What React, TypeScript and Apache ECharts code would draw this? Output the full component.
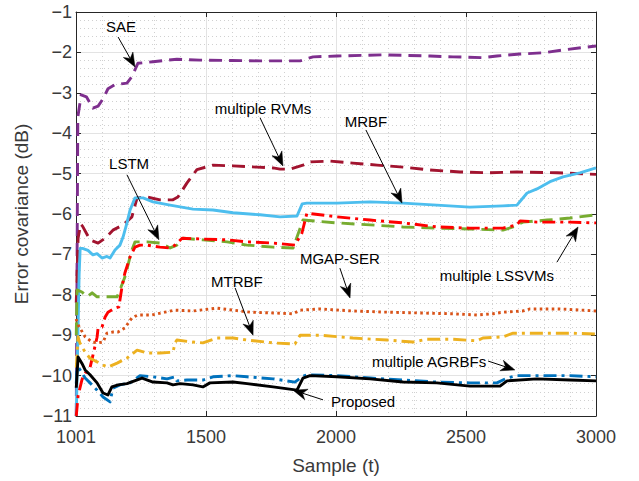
import React, { useEffect, useRef } from 'react';
import * as echarts from 'echarts';

type Pt = [number, number];

const FONT = '"Liberation Sans", Arial, Helvetica, sans-serif';

const xTickValues = [1000, 1500, 2000, 2500, 3000];
const xTickLabels = ['1001', '1500', '2000', '2500', '3000'];

const sae: Pt[] = [[1001,-11],[1007,-3.6],[1020,-3.05],[1040,-3.1],[1065,-3.38],[1085,-3.33],[1104,-3.15],[1123,-2.9],[1150,-2.8],[1196,-2.76],[1215,-2.6],[1238,-2.27],[1296,-2.23],[1388,-2.17],[1477,-2.19],[1600,-2.2],[1708,-2.21],[1862,-2.21],[1912,-2.11],[2004,-2.09],[2181,-2.06],[2362,-2.09],[2450,-2.11],[2565,-2.13],[2619,-2.09],[2708,-2.04],[2796,-2.01],[2873,-1.94],[3000,-1.84]];

const rvms: Pt[] = [[1001,-8.2],[1008,-6.6],[1018,-6.25],[1025,-6.3],[1054,-6.64],[1085,-6.72],[1112,-6.6],[1142,-6.4],[1181,-6.27],[1215,-6.07],[1235,-5.6],[1273,-5.58],[1323,-5.65],[1373,-5.65],[1392,-5.58],[1427,-5.23],[1465,-4.9],[1527,-4.79],[1604,-4.81],[1696,-4.84],[1758,-4.86],[1785,-4.89],[1823,-4.89],[1873,-4.79],[1900,-4.71],[1977,-4.69],[2065,-4.74],[2158,-4.79],[2258,-4.84],[2362,-4.91],[2477,-4.96],[2581,-4.98],[2696,-4.96],[2850,-4.98],[2965,-5.01],[3000,-5.02]];

const mrbf: Pt[] = [[1001,-11],[1012,-7.5],[1016,-6.85],[1025,-6.85],[1046,-6.9],[1065,-7.01],[1081,-6.98],[1100,-7.09],[1119,-7.05],[1131,-7.09],[1150,-6.89],[1169,-6.77],[1181,-6.57],[1196,-6.22],[1208,-5.9],[1227,-5.6],[1258,-5.6],[1296,-5.7],[1362,-5.78],[1450,-5.88],[1527,-5.9],[1604,-5.97],[1708,-6.02],[1785,-6.07],[1850,-6.05],[1870,-5.75],[1888,-5.73],[2004,-5.73],[2131,-5.7],[2258,-5.73],[2388,-5.78],[2515,-5.83],[2642,-5.8],[2696,-5.78],[2735,-5.48],[2773,-5.38],[2823,-5.2],[2873,-5.08],[2938,-4.98],[3000,-4.86]];

const lstm: Pt[] = [[1001,-9.0],[1004,-7.88],[1023,-7.93],[1042,-8.05],[1062,-7.95],[1081,-8.05],[1131,-8.05],[1158,-8.05],[1169,-7.88],[1188,-7.56],[1215,-6.89],[1227,-6.69],[1273,-6.69],[1323,-6.72],[1362,-6.84],[1388,-6.77],[1412,-6.6],[1488,-6.64],[1581,-6.69],[1658,-6.77],[1758,-6.82],[1835,-6.84],[1873,-6.15],[2004,-6.22],[2131,-6.27],[2258,-6.32],[2388,-6.35],[2515,-6.37],[2642,-6.4],[2681,-6.32],[2719,-6.2],[2812,-6.15],[2900,-6.1],[3000,-6.02]];

const lssvms: Pt[] = [[1001,-11],[1008,-10.5],[1023,-10.1],[1035,-9.94],[1054,-9.8],[1065,-9.5],[1081,-9.05],[1085,-8.82],[1100,-8.8],[1112,-8.55],[1123,-8.43],[1150,-8.33],[1165,-8.3],[1169,-8.13],[1177,-7.8],[1188,-7.46],[1208,-7.06],[1227,-6.82],[1246,-6.77],[1273,-6.77],[1323,-6.82],[1362,-6.84],[1381,-6.77],[1408,-6.6],[1488,-6.62],[1581,-6.64],[1658,-6.69],[1758,-6.72],[1842,-6.77],[1869,-6.47],[1888,-5.98],[2004,-6.07],[2131,-6.15],[2258,-6.22],[2388,-6.32],[2515,-6.35],[2642,-6.35],[2696,-6.27],[2708,-6.17],[2773,-6.2],[2900,-6.2],[3000,-6.22]];

const mgapser: Pt[] = [[1001,-8.6],[1004,-8.7],[1015,-8.82],[1035,-9.04],[1062,-9.17],[1085,-9.19],[1104,-9.17],[1119,-8.95],[1142,-8.92],[1162,-8.92],[1188,-8.82],[1215,-8.57],[1238,-8.5],[1292,-8.5],[1342,-8.43],[1381,-8.38],[1450,-8.4],[1542,-8.33],[1604,-8.38],[1669,-8.43],[1758,-8.45],[1835,-8.47],[1862,-8.38],[1938,-8.35],[2065,-8.4],[2196,-8.43],[2323,-8.45],[2450,-8.47],[2542,-8.5],[2604,-8.47],[2642,-8.43],[2719,-8.4],[2746,-8.35],[2862,-8.35],[3000,-8.4]];

const mtrbf: Pt[] = [[1001,-9.8],[1008,-9.04],[1015,-9.19],[1035,-9.42],[1054,-9.57],[1081,-9.66],[1104,-9.74],[1123,-9.79],[1158,-9.69],[1196,-9.57],[1235,-9.37],[1273,-9.44],[1323,-9.44],[1373,-9.42],[1381,-9.19],[1388,-9.12],[1450,-9.17],[1488,-9.19],[1542,-9.07],[1604,-9.07],[1658,-9.12],[1758,-9.19],[1842,-9.22],[1862,-9.0],[1938,-9.0],[2065,-9.07],[2196,-9.12],[2296,-9.17],[2350,-9.1],[2450,-9.1],[2542,-9.14],[2565,-9.07],[2642,-9.04],[2681,-8.95],[2773,-8.95],[2900,-8.95],[3000,-8.97]];

const agrbfs: Pt[] = [[1001,-10.2],[1004,-9.8],[1015,-9.85],[1035,-10.06],[1054,-10.18],[1081,-10.36],[1104,-10.53],[1131,-10.65],[1142,-10.31],[1169,-10.23],[1208,-10.18],[1246,-10.0],[1296,-10.03],[1350,-10.08],[1381,-10.03],[1388,-10.13],[1427,-10.11],[1488,-10.11],[1527,-10.03],[1604,-10.0],[1658,-10.03],[1758,-10.08],[1842,-10.16],[1869,-10.03],[1888,-9.98],[2004,-10.0],[2131,-10.06],[2258,-10.11],[2388,-10.16],[2515,-10.18],[2619,-10.18],[2658,-10.06],[2696,-10.0],[2773,-10.0],[2900,-10.0],[3000,-10.03]];

const proposed: Pt[] = [[1001,-10.3],[1008,-9.54],[1023,-9.7],[1035,-9.86],[1054,-9.98],[1081,-10.18],[1104,-10.43],[1123,-10.48],[1138,-10.28],[1162,-10.23],[1196,-10.2],[1254,-10.06],[1296,-10.16],[1350,-10.18],[1373,-10.23],[1400,-10.2],[1450,-10.23],[1488,-10.28],[1515,-10.18],[1604,-10.16],[1658,-10.2],[1758,-10.28],[1850,-10.36],[1873,-10.06],[1900,-10.0],[2004,-10.03],[2131,-10.08],[2258,-10.16],[2388,-10.18],[2515,-10.26],[2631,-10.26],[2658,-10.13],[2773,-10.08],[2900,-10.11],[3000,-10.13]];

const DASHED = [13, 7];
const DASHDOT = [13, 5, 3, 5];
const DOTTED = [2.6, 3.4];

const seriesDefs = [
  { name: 'SAE', data: sae, color: '#7E2F8E', dash: DASHED },
  { name: 'multiple RVMs', data: rvms, color: '#A2142F', dash: DASHED },
  { name: 'MRBF', data: mrbf, color: '#4DBEEE', dash: 'solid' },
  { name: 'LSTM', data: lstm, color: '#77AC30', dash: DASHED },
  { name: 'multiple LSSVMs', data: lssvms, color: '#FF0000', dash: DASHDOT },
  { name: 'MGAP-SER', data: mgapser, color: '#D95319', dash: DOTTED },
  { name: 'MTRBF', data: mtrbf, color: '#EDB120', dash: DASHDOT },
  { name: 'multiple AGRBFs', data: agrbfs, color: '#0072BD', dash: DASHDOT },
  { name: 'Proposed', data: proposed, color: '#000000', dash: 'solid' },
];

// annotation: label position, arrow start, arrow tip (data coordinates)
const annotations: { text: string; label: Pt; from: Pt; to: Pt }[] = [
  { text: 'SAE', label: [1173, -1.35], from: [1162, -1.62], to: [1227, -2.36] },
  { text: 'multiple RVMs', label: [1719, -3.38], from: [1708, -3.62], to: [1796, -4.81] },
  { text: 'MRBF', label: [2115, -3.7], from: [2115, -3.92], to: [2254, -5.73] },
  { text: 'LSTM', label: [1204, -4.76], from: [1196, -5.03], to: [1319, -6.64] },
  { text: 'MGAP-SER', label: [2015, -7.09], from: [2015, -7.34], to: [2054, -8.08] },
  { text: 'multiple LSSVMs', label: [2619, -7.51], from: [2850, -7.19], to: [2931, -6.32] },
  { text: 'MTRBF', label: [1619, -7.66], from: [1612, -7.83], to: [1681, -9.0] },
  { text: 'multiple AGRBFs', label: [2358, -9.64], from: [2585, -9.64], to: [2688, -9.86] },
  { text: 'Proposed', label: [2104, -10.65], from: [1950, -10.6], to: [1835, -10.36] },
];

const AXIS = '#262626';
const LABEL = '#3a3a3a';
const GRID_MAJOR = '#e3e3e3';
const GRID_MINOR = '#d0d0d0';

export default function App() {
  const ref = useRef<HTMLDivElement>(null);
  useEffect(() => {
    if (!ref.current) return;
    const chart = echarts.init(ref.current, undefined, { renderer: 'svg' });
    const grid = { left: 76, right: 43, top: 12, bottom: 65 };
    const xCommon = {
      type: 'value' as const,
      min: 1000,
      max: 3000,
      interval: 500,
    };
    const yCommon = {
      type: 'value' as const,
      min: -11,
      max: -1,
      interval: 1,
    };
    chart.setOption({
      animation: false,
      backgroundColor: '#ffffff',
      grid,
      xAxis: [
        {
          ...xCommon,
          position: 'bottom',
          name: 'Sample (t)',
          nameLocation: 'middle',
          nameGap: 40,
          nameTextStyle: { fontFamily: FONT, fontSize: 19, color: LABEL },
          axisLine: { show: true, onZero: false, lineStyle: { color: AXIS, width: 1 } },
          axisTick: { show: true, inside: true, length: 5, lineStyle: { color: AXIS } },
          minorTick: { show: false, splitNumber: 5 },
          axisLabel: {
            fontFamily: FONT,
            fontSize: 18,
            color: LABEL,
            margin: 12,
            formatter: (v: number) => {
              const i = xTickValues.indexOf(v);
              return i >= 0 ? xTickLabels[i] : '';
            },
          },
          splitLine: { show: true, lineStyle: { color: GRID_MAJOR, width: 1 } },
          minorSplitLine: { show: true, lineStyle: { color: GRID_MINOR, width: 1, type: [1, 3] } },
        },
        {
          ...xCommon,
          position: 'top',
          axisLine: { show: true, onZero: false, lineStyle: { color: AXIS, width: 1 } },
          axisTick: { show: true, inside: true, length: 5, lineStyle: { color: AXIS } },
          axisLabel: { show: false },
          splitLine: { show: false },
        },
      ],
      yAxis: [
        {
          ...yCommon,
          position: 'left',
          name: 'Error covariance (dB)',
          nameLocation: 'middle',
          nameGap: 40,
          nameTextStyle: { fontFamily: FONT, fontSize: 19, color: LABEL },
          axisLine: { show: true, onZero: false, lineStyle: { color: AXIS, width: 1 } },
          axisTick: { show: true, inside: true, length: 5, lineStyle: { color: AXIS } },
          minorTick: { show: false, splitNumber: 5 },
          axisLabel: {
            fontFamily: FONT,
            fontSize: 18,
            color: LABEL,
            margin: 4,
            formatter: (v: number) => (v < 0 ? '\u2212' + String(-v) : String(v)),
          },
          splitLine: { show: true, lineStyle: { color: GRID_MAJOR, width: 1 } },
          minorSplitLine: { show: true, lineStyle: { color: GRID_MINOR, width: 1, type: [1, 3] } },
        },
        {
          ...yCommon,
          position: 'right',
          axisLine: { show: true, onZero: false, lineStyle: { color: AXIS, width: 1 } },
          axisTick: { show: true, inside: true, length: 5, lineStyle: { color: AXIS } },
          axisLabel: { show: false },
          splitLine: { show: false },
        },
      ],
      series: seriesDefs.map((s) => ({
        name: s.name,
        type: 'line',
        xAxisIndex: 0,
        yAxisIndex: 0,
        data: s.data,
        showSymbol: false,
        symbol: 'none',
        clip: true,
        lineStyle: { color: s.color, width: 2.9, type: s.dash as any, cap: 'butt', join: 'round' },
        itemStyle: { color: s.color },
        emphasis: { disabled: true },
        silent: true,
      })),
    });

    const toPx = (p: Pt) => chart.convertToPixel({ gridIndex: 0 }, p) as number[];
    const graphics: any[] = [];
    const L = 14;
    const W = 5.5;
    annotations.forEach((a) => {
      const lp = toPx(a.label);
      const f = toPx(a.from);
      const t = toPx(a.to);
      const dx = t[0] - f[0];
      const dy = t[1] - f[1];
      const len = Math.sqrt(dx * dx + dy * dy) || 1;
      const ux = dx / len;
      const uy = dy / len;
      const nx = -uy;
      const ny = ux;
      const bx = t[0] - ux * L;
      const by = t[1] - uy * L;
      const notchX = t[0] - ux * L * 0.7;
      const notchY = t[1] - uy * L * 0.7;
      graphics.push({
        type: 'line',
        silent: true,
        z: 100,
        shape: { x1: f[0], y1: f[1], x2: notchX, y2: notchY },
        style: { stroke: '#000', lineWidth: 1 },
      });
      graphics.push({
        type: 'polygon',
        silent: true,
        z: 100,
        shape: {
          points: [
            [t[0], t[1]],
            [bx + nx * W, by + ny * W],
            [notchX, notchY],
            [bx - nx * W, by - ny * W],
          ],
        },
        style: { fill: '#000', stroke: '#000', lineWidth: 0.5 },
      });
      graphics.push({
        type: 'text',
        silent: true,
        z: 101,
        x: lp[0],
        y: lp[1],
        style: {
          text: a.text,
          fill: '#000',
          font: `15px ${FONT}`,
          textAlign: 'center',
          textVerticalAlign: 'middle',
          align: 'center',
          verticalAlign: 'middle',
        },
      });
    });
    chart.setOption({ graphic: graphics });

    return () => chart.dispose();
  }, []);

  return (
    <div
      ref={ref}
      style={{ position: 'fixed', left: 0, top: 0, width: 639, height: 481, background: '#fff' }}
    />
  );
}
